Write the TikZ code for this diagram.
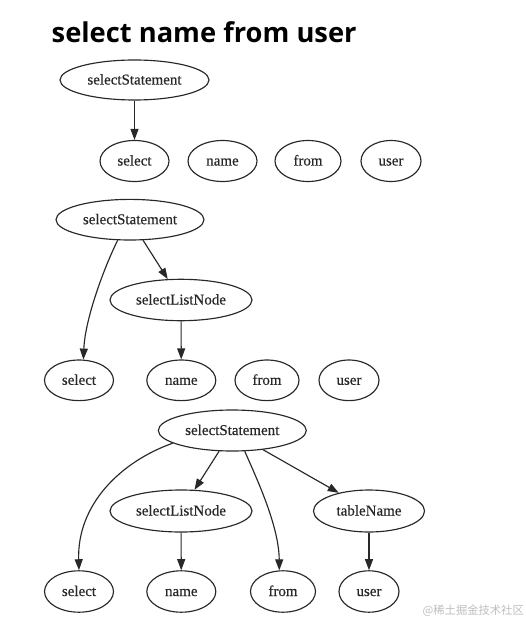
\documentclass[tikz,border=0pt]{standalone}
\usepackage{fontspec}
\setmainfont{Liberation Serif}
\newfontfamily\nodefont[FakeBold=0.4]{Liberation Serif}
\newfontfamily\titlefont{Open Sans}
\newfontfamily\cjkfont{Noto Sans CJK SC}
\usetikzlibrary{shapes.geometric,arrows.meta}
\definecolor{ink}{RGB}{40,40,40}
\definecolor{wm}{RGB}{190,190,190}
\begin{document}
\begin{tikzpicture}[x=1bp,y=-1bp,
  tnode/.style={ellipse,draw=ink,line width=1.15bp,inner sep=0pt,text=ink,
    text height=11bp,text depth=2bp,
    font=\nodefont\fontsize{15bp}{18bp}\selectfont},
  edge/.style={draw=ink,line width=1.15bp,-{Triangle[length=11bp,width=8bp]}}]
\useasboundingbox (0,0) rectangle (526,621);
\fill[white] (0,0) rectangle (526,621);
% title
\node[anchor=base west,inner sep=0pt,text=black,font=\titlefont\bfseries\fontsize{27.3bp}{30bp}\selectfont] (title) at (51.5,42.3) {select name from user};
% ---------- diagram 1
\node[tnode,minimum width=149bp,minimum height=40bp] (ss1) at (134.5,80) {selectStatement};
\node[tnode,minimum width=69bp,minimum height=41bp] (sel1) at (134.5,161) {select};
\node[tnode,minimum width=69bp,minimum height=41bp] (name1) at (222.5,161) {name};
\node[tnode,minimum width=66bp,minimum height=41bp] (from1) at (308,161) {from};
\node[tnode,minimum width=60bp,minimum height=41bp] (user1) at (391,161) {user};
\draw[edge] (ss1) -- (sel1);
% ---------- diagram 2
\node[tnode,minimum width=148bp,minimum height=40.6bp] (ss2) at (130,219.7) {selectStatement};
\node[tnode,minimum width=142bp,minimum height=41.4bp] (sln2) at (181,300) {selectListNode};
\node[tnode,minimum width=69bp,minimum height=40.6bp] (sel2) at (79,380.3) {select};
\node[tnode,minimum width=69bp,minimum height=40.6bp] (name2) at (181.3,380.3) {name};
\node[tnode,minimum width=64bp,minimum height=40.6bp] (from2) at (267,380.3) {from};
\node[tnode,minimum width=60bp,minimum height=40.6bp] (user2) at (349,380.3) {user};
\draw[edge] (ss2.239.4) .. controls (103,270) and (85,320) .. (sel2.78);
\draw[edge] (ss2) -- (sln2);
\draw[edge] (sln2) -- (name2);
% ---------- diagram 3
\node[tnode,minimum width=148bp,minimum height=41bp] (ss3) at (232.3,430.5) {selectStatement};
\node[tnode,minimum width=142bp,minimum height=42bp] (sln3) at (181,511) {selectListNode};
\node[tnode,minimum width=111bp,minimum height=42bp] (tn3) at (369,511) {tableName};
\node[tnode,minimum width=69bp,minimum height=41.4bp] (sel3) at (79,591.5) {select};
\node[tnode,minimum width=69bp,minimum height=41.4bp] (name3) at (181.3,591.5) {name};
\node[tnode,minimum width=65bp,minimum height=41.4bp] (from3) at (283,591.5) {from};
\node[tnode,minimum width=60bp,minimum height=41.4bp] (user3) at (369,591.5) {user};
\draw[edge] (ss3.192) .. controls (120,462) and (77,505) .. (sel3.90);
\draw[edge] (ss3) -- (sln3);
\draw[edge] (ss3.301.8) .. controls (255,475) and (279,525) .. (from3.100);
\draw[edge] (ss3.328) -- (tn3.149);
\draw[edge] (sln3) -- (name3);
\draw[edge] (tn3) -- (user3);
% watermark
\node[anchor=east,inner sep=0pt,text=wm,font=\cjkfont\fontsize{11.3bp}{13bp}\selectfont] (wmk) at (524,610.5) {@稀土掘金技术社区};
\end{tikzpicture}
\end{document}
